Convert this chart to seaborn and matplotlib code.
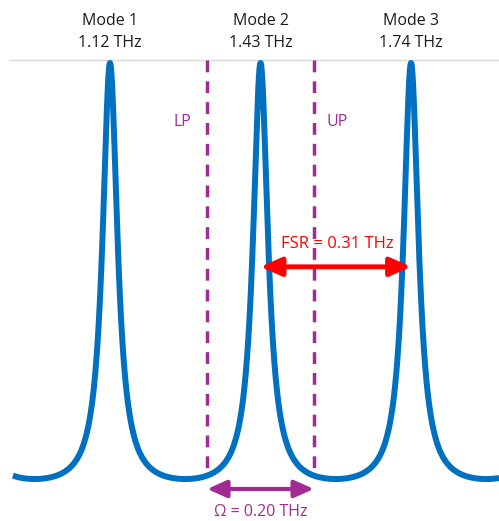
import numpy as np
import pandas as pd
import matplotlib
matplotlib.use("Agg")
import matplotlib.pyplot as plt
import seaborn as sns

sns.set_theme(style="white")
plt.rcParams["font.family"] = ["Open Sans", "DejaVu Sans"]

# ── DATA ────────────────────────────────────────────────────
mode_names  = ["Mode 1", "Mode 2", "Mode 3"]
mode_freqs  = [1.12, 1.43, 1.74]           # THz
mode_labels = ["1.12 THz", "1.43 THz", "1.74 THz"]
fsr         = 0.31                         # free spectral range, THz
finesse_F   = 28.0                         # coefficient of finesse
lp_freq, up_freq = 1.32, 1.54              # polariton positions, THz
fsr_text    = "FSR = 0.31 THz"
omega_text  = "\u03a9 = 0.20 THz"

BLUE   = "#0070c0"
PURPLE = "#a02b93"
RED    = "#ff0000"

# cavity transmission (Airy function)
freq = np.linspace(0.92, 1.98, 3000)
spec = 1.0 / (1.0 + finesse_F * np.sin(np.pi * (freq - mode_freqs[0]) / fsr) ** 2)
df = pd.DataFrame({"freq": freq, "amp": spec})

def amp_at(f):
    return np.interp(f, freq, spec)

# ── FIGURE ──────────────────────────────────────────────────
fig = plt.figure(figsize=(4.99, 5.21), dpi=100)
ax = fig.add_axes([0, 0, 1, 1])
ax.set_xlim(0.8934, 1.9212)
ax.set_ylim(-0.0629, 1.1462)
ax.axis("off")

top = 1.008
ax.plot([0.912, 2.0], [top, top], color="#d9d9d9", lw=1.0, zorder=1)

sns.lineplot(data=df, x="freq", y="amp", color=BLUE, lw=4.3,
             ax=ax, zorder=3, solid_capstyle="butt")

for f in (lp_freq, up_freq):
    ax.plot([f, f], [top, amp_at(f) + 0.01], color=PURPLE, lw=2.5,
            dashes=(3.4, 2.6), zorder=2)

ax.text(lp_freq - 0.05, 0.863, "LP", color=PURPLE, fontsize=11.5,
        ha="center", va="center")
ax.text(up_freq + 0.048, 0.863, "UP", color=PURPLE, fontsize=11.5,
        ha="center", va="center")

for name, f0, lab in zip(mode_names, mode_freqs, mode_labels):
    ax.text(f0, 1.0975, name, fontsize=11.5, color="#1a1a1a",
            ha="center", va="center")
    ax.text(f0, 1.0464, lab, fontsize=11.5, color="#1a1a1a",
            ha="center", va="center")

# FSR arrow between mode 2 and mode 3
fsr_y = 0.527
ax.annotate("", xy=(mode_freqs[2], fsr_y), xytext=(mode_freqs[1], fsr_y),
            arrowprops=dict(arrowstyle="<|-|>,head_length=0.9,head_width=0.4",
                            color=RED, lw=3.5, shrinkA=0, shrinkB=0,
                            mutation_scale=14),
            zorder=4)
ax.text(1.588, 0.580, fsr_text, color=RED, fontsize=12,
        ha="center", va="center", zorder=4)

# Rabi splitting arrow
om_y = 0.0114
ax.annotate("", xy=(up_freq, om_y), xytext=(lp_freq, om_y),
            arrowprops=dict(arrowstyle="<|-|>,head_length=0.9,head_width=0.4",
                            color=PURPLE, lw=3.0, shrinkA=0, shrinkB=0,
                            mutation_scale=13))
ax.text((lp_freq + up_freq) / 2, -0.042, omega_text, color=PURPLE,
        fontsize=11.5, ha="center", va="center")

fig.savefig("out.png", dpi=100)
